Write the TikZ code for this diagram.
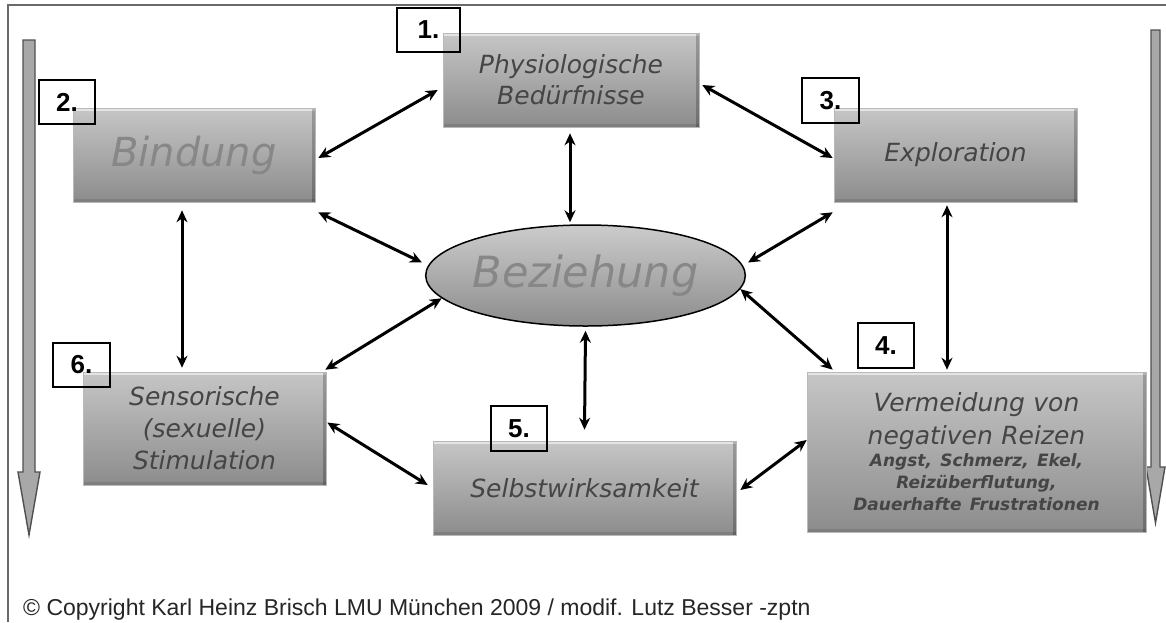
\documentclass[tikz,border=0pt]{standalone}
\usepackage{fontspec}
\setsansfont{DejaVu Sans}
\newfontfamily\labelfont{Liberation Sans}
\usetikzlibrary{shapes.geometric,arrows.meta,calc}

\definecolor{boxtop}{HTML}{C6C6C6}
\definecolor{boxbot}{HTML}{8C8C8C}
\definecolor{boxtext}{HTML}{454545}
\definecolor{softtext}{HTML}{878787}
\definecolor{framegray}{HTML}{6A6A6A}
\definecolor{barfill}{HTML}{A8A8A8}
\definecolor{baredge}{HTML}{505050}

\begin{document}
\begin{tikzpicture}[x=1pt,y=-1pt,
  card/.style={rectangle, inner sep=0pt, align=center,
    shading=axis, top color=boxtop, bottom color=boxbot,
    draw=gray!55, line width=0.6pt, text=boxtext,
    font=\sffamily\itshape\fontsize{25}{31}\selectfont,
    path picture={
      \fill[white,opacity=0.55] (path picture bounding box.north west)
        rectangle ([yshift=-3pt]path picture bounding box.north east);
      \fill[black,opacity=0.22] ([xshift=-3pt]path picture bounding box.north east)
        rectangle (path picture bounding box.south east);
      \fill[black,opacity=0.10] ([yshift=3pt]path picture bounding box.south west)
        rectangle (path picture bounding box.south east);
    }},
  hub/.style={ellipse, inner sep=0pt, draw=black, line width=1.5pt,
    shading=axis, top color=boxtop!90!white, bottom color=boxbot,
    text=softtext, font=\sffamily\itshape\fontsize{43}{50}\selectfont},
  numtag/.style={rectangle, draw=black, line width=2pt, inner sep=0pt,
    font=\labelfont\bfseries\fontsize{26}{26}\selectfont},
  link/.style={black, line width=3pt,
    {Stealth[length=12pt,width=11pt]}-{Stealth[length=12pt,width=11pt]}},
  bar/.style={fill=barfill, draw=baredge, line width=1.4pt},
]
\useasboundingbox (0,0) rectangle (1166,622);
\clip (0,0) rectangle (1166,622);

% outer frame
\draw[framegray, line width=2pt] (8,622) -- (8,5) -- (1166,5);

% downward bars on both sides
\draw[bar] (23,40) -- (35,40) -- (35,472) -- (40,472) -- (29,535)
  -- (18,472) -- (23,472) -- cycle;
\draw[bar] (1151,30) -- (1160,30) -- (1160,467) -- (1165,467) -- (1155.5,523)
  -- (1146,467) -- (1151,467) -- cycle;

% topic boxes
\node[card, minimum width=256pt, minimum height=94pt] (phys) at (571,80)
  {Physiologische\\Bedürfnisse};
\node[card, minimum width=242pt, minimum height=94pt, text=softtext,
  font=\sffamily\itshape\fontsize{40}{48}\selectfont] (bind) at (194,155) {Bindung};
\node[card, minimum width=243pt, minimum height=94pt] (expl) at (955.5,155) {Exploration};
\node[card, minimum width=243pt, minimum height=113pt,
  font=\sffamily\itshape\fontsize{25}{32}\selectfont] (sens) at (204.5,428.5)
  {Sensorische\\(sexuelle)\\Stimulation};
\node[card, minimum width=303pt, minimum height=94pt] (selb) at (584.5,488) {Selbstwirksamkeit};
\node[card, minimum width=339pt, minimum height=160pt, text width=330pt] (verm) at (976.5,452)
  {{\fontsize{25}{33}\selectfont Vermeidung von\\negativen Reizen\par}%
   {\bfseries\fontsize{17}{22}\selectfont Angst, Schmerz, Ekel,\\Reizüberflutung,\\Dauerhafte Frustrationen\par}};

% central ellipse
\node[hub, minimum width=301pt, minimum height=101pt] (bez) at (585.5,275.5) {Beziehung};

% number tags
\node[numtag, minimum width=63pt, minimum height=44pt] (n1) at (428.5,30) {1.};
\node[numtag, minimum width=56pt, minimum height=44pt] (n2) at (67,102) {2.};
\node[numtag, minimum width=57pt, minimum height=45pt] (n3) at (830.5,100.5) {3.};
\node[numtag, minimum width=56pt, minimum height=45pt] (n4) at (886,345.5) {4.};
\node[numtag, minimum width=56pt, minimum height=45pt] (n5) at (519,428.5) {5.};
\node[numtag, minimum width=57pt, minimum height=44pt] (n6) at (81.5,365) {6.};

% connectors
\draw[link] ([shift={(3,3)}]bind.east) -- ([shift={(-5,10)}]phys.west);
\draw[link] ([shift={(3,5)}]phys.east) -- ([shift={(-1,3)}]expl.west);
\draw[link] ([shift={(-1,6)}]phys.south) -- ([shift={(-15.5,-2)}]bez.north);
\draw[link] ([shift={(3,10)}]bind.south east) -- ([shift={(-3,-13)}]bez.west);
\draw[link] ([shift={(-1,10)}]expl.south west) -- ([shift={(2,-13)}]bez.east);
\draw[link] ([shift={(-12,8)}]bind.south) -- ([shift={(-22.5,-4)}]sens.north);
\draw[link] ([shift={(-1,-2)}]sens.north east) -- (bez.189);
\draw[link] ([shift={(0,4)}]bez.south) -- ([shift={(0,-11)}]selb.north);
\draw[link] (bez.355) -- ([shift={(26,-2)}]verm.north west);
\draw[link] ([shift={(-8.5,3)}]expl.south) -- ([shift={(-29.5,-2)}]verm.north);
\draw[link] ([shift={(1,-6)}]sens.east) -- ([shift={(-5,-3)}]selb.west);
\draw[link] ([shift={(4,2)}]selb.east) -- ([shift={(0,-12)}]verm.west);

% copyright line
\node[anchor=base west, inner sep=0pt, text=black!85,
  font=\labelfont\fontsize{23}{27}\selectfont] (copy) at (23,615)
  {© Copyright Karl Heinz Brisch LMU München 2009 / modif. Lutz Besser -zptn};
\end{tikzpicture}
\end{document}
